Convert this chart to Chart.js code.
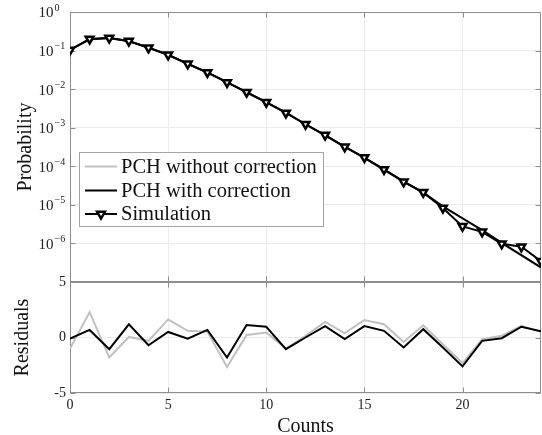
<!DOCTYPE html>
<html>
<head>
<meta charset="utf-8">
<script src="https://cdn.jsdelivr.net/npm/chart.js@4.4.1/dist/chart.umd.min.js"></script>
<style>
  html, body { margin: 0; padding: 0; background: #fff; }
</style>
</head>
<body>
<canvas id="pch" width="542" height="435"></canvas>
<script>
// ---- data ----
const counts = [0, 1, 2, 3, 4, 5, 6, 7, 8, 9, 10, 11, 12, 13, 14, 15, 16, 17, 18, 19, 20, 21, 22, 23, 24];

const simulation = [0.103, 0.200, 0.211, 0.177, 0.118, 0.0778, 0.0454, 0.0272, 0.0149, 0.00836,
  0.00459, 0.00242, 0.00123, 6.45e-4, 3.2e-4, 1.69e-4, 8.3e-5, 3.97e-5, 2.11e-5, 8.3e-6,
  2.77e-6, 2.0e-6, 9.8e-7, 8.2e-7, 3.47e-7];

const pchWithCorr = [0.104, 0.197, 0.212, 0.174, 0.119, 0.0772, 0.0456, 0.0269, 0.0153, 0.00822,
  0.00453, 0.00245, 0.00123, 6.3e-4, 3.22e-4, 1.65e-4, 8.2e-5, 4.05e-5, 2.07e-5, 9.1e-6,
  4.5e-6, 2.2e-6, 1.03e-6, 5.0e-7, 2.4e-7];

const pchNoCorr = [0.108, 0.190, 0.215, 0.176, 0.120, 0.0758, 0.0448, 0.0270, 0.0155, 0.0083,
  0.00455, 0.00245, 0.00122, 6.2e-4, 3.18e-4, 1.62e-4, 8.0e-5, 4.0e-5, 2.04e-5, 9.0e-6,
  4.4e-6, 2.15e-6, 1.0e-6, 4.8e-7, 2.3e-7];

const residNoCorr = [-1.0, 2.28, -1.8, 0.05, -0.3, 1.63, 0.6, 0.53, -2.65, 0.23,
  0.45, -1.0, 0.15, 1.4, 0.4, 1.58, 1.2, -0.4, 1.1, -0.6,
  -2.3, -0.15, 0.15, 1.05, 0.5];

const residCorr = [-0.1, 0.68, -1.05, 1.18, -0.7, 0.5, -0.1, 0.68, -1.8, 1.12,
  0.97, -1.05, 0.0, 1.03, -0.15, 1.03, 0.6, -0.9, 0.75, -0.9,
  -2.6, -0.3, -0.06, 0.97, 0.55];

const xTicks = [0, 5, 10, 15, 20];
const xTickLabels = ['0', '5', '10', '15', '20'];
const probGrid = [1e-7, 1e-6, 1e-5, 1e-4, 1e-3, 1e-2, 1e-1, 1];
const probTicks = [1e-6, 1e-5, 1e-4, 1e-3, 1e-2, 1e-1, 1];
const probTickExp = ['\u22126', '\u22125', '\u22124', '\u22123', '\u22122', '\u22121', '0'];
const residTicks = [-5, 0, 5];
const legendLabels = ['PCH without correction', 'PCH with correction', 'Simulation'];

const SERIF = '"Liberation Serif", "Times New Roman", "DejaVu Serif", serif';
const AXIS_GRAY = '#8e8e8e';
const GRID_GRAY = '#ececec';
const LIGHT_LINE = '#c0c0c0';

const pts = arr => counts.map((c, i) => ({ x: c, y: arr[i] }));

// frame, inward ticks, log labels and the legend box
const decorations = {
    id: 'decorations',
    beforeDatasetsDraw(chart) {
        const { ctx, scales } = chart;
        const x = scales.x;
        ctx.save();
        ctx.strokeStyle = AXIS_GRAY;
        ctx.lineWidth = 1;
        [scales.y, scales.y2].forEach(s => {
            const top = Math.round(s.top) + 0.5;
            const bot = Math.round(s.bottom) - 0.5;
            const l = Math.round(x.left) + 0.5;
            const r = Math.round(x.right) - 0.5;
            ctx.strokeRect(l, top, r - l, bot - top);
            ctx.beginPath();
            xTicks.forEach(v => {
                const px = Math.round(x.getPixelForValue(v)) + 0.5;
                ctx.moveTo(px, top); ctx.lineTo(px, top + 5);
                ctx.moveTo(px, bot); ctx.lineTo(px, bot - 5);
            });
            s.ticks.forEach(t => {
                const py = Math.round(s.getPixelForValue(t.value)) + 0.5;
                ctx.moveTo(l, py); ctx.lineTo(l + 5, py);
                ctx.moveTo(r, py); ctx.lineTo(r - 5, py);
            });
            ctx.stroke();
        });
        ctx.restore();
    },
    afterDraw(chart) {
        const { ctx, scales } = chart;
        const s = scales.y;
        ctx.save();
        ctx.fillStyle = '#222';
        probTicks.forEach((v, i) => {
            const py = s.getPixelForValue(v);
            ctx.font = '15px ' + SERIF;
            ctx.textAlign = 'right';
            ctx.textBaseline = 'middle';
            ctx.fillText('10', 53.5, py + 1.5);
            ctx.font = '10px ' + SERIF;
            ctx.textAlign = 'left';
            ctx.fillText(probTickExp[i], 54.5, py - 4);
        });

        // legend
        const bx = 79.5, by = 152.5, bw = 244, bh = 74;
        ctx.fillStyle = '#fff';
        ctx.fillRect(bx, by, bw, bh);
        ctx.strokeStyle = '#a4a4a4';
        ctx.lineWidth = 1;
        ctx.strokeRect(bx, by, bw, bh);
        const rows = [166.5, 190.5, 214];
        const colors = [LIGHT_LINE, '#000', '#000'];
        legendLabels.forEach((label, i) => {
            ctx.strokeStyle = colors[i];
            ctx.lineWidth = 2;
            ctx.beginPath();
            ctx.moveTo(85, rows[i]);
            ctx.lineTo(117, rows[i]);
            ctx.stroke();
            if (i === 2) {
                ctx.fillStyle = '#fff';
                ctx.lineWidth = 2.5;
                Chart.helpers.drawPoint(ctx, {
                    pointStyle: 'triangle', rotation: 180, radius: 4.5, borderWidth: 2.5
                }, 101, rows[i]);
            }
            ctx.fillStyle = '#111';
            ctx.font = '20.5px ' + SERIF;
            ctx.textAlign = 'left';
            ctx.textBaseline = 'middle';
            ctx.fillText(label, 121, rows[i] + 1);
        });
        ctx.restore();
    }
};

const ctx = document.getElementById('pch').getContext('2d');
const chart = new Chart(ctx, {
    type: 'line',
    data: {
        datasets: [
            {
                label: legendLabels[2], data: pts(simulation), yAxisID: 'y', order: 0,
                borderColor: '#000', borderWidth: 2,
                pointStyle: 'triangle', rotation: 180, pointRadius: 4.5,
                pointBorderWidth: 2.5, pointBorderColor: '#000', pointBackgroundColor: '#fff'
            },
            {
                label: legendLabels[1], data: pts(pchWithCorr), yAxisID: 'y', order: 1,
                borderColor: '#000', borderWidth: 2, pointRadius: 0
            },
            {
                label: legendLabels[0], data: pts(pchNoCorr), yAxisID: 'y', order: 2,
                borderColor: LIGHT_LINE, borderWidth: 2, pointRadius: 0
            },
            {
                label: 'Residuals with correction', data: pts(residCorr), yAxisID: 'y2', order: 1,
                borderColor: '#000', borderWidth: 2, pointRadius: 0
            },
            {
                label: 'Residuals without correction', data: pts(residNoCorr), yAxisID: 'y2', order: 2,
                borderColor: LIGHT_LINE, borderWidth: 2, pointRadius: 0
            }
        ]
    },
    options: {
        responsive: false,
        animation: false,
        layout: { autoPadding: false, padding: { top: 12, right: 1, left: 0, bottom: 0 } },
        plugins: { legend: { display: false }, tooltip: { enabled: false } },
        scales: {
            x: {
                type: 'linear', min: 0, max: 24,
                afterBuildTicks: s => { s.ticks = xTicks.map(v => ({ value: v })); },
                afterFit: s => { s.height = 42; s.paddingLeft = 0; s.paddingRight = 0; },
                grid: { color: GRID_GRAY, drawTicks: false },
                border: { display: false },
                ticks: {
                    padding: 4, color: '#222', font: { family: SERIF, size: 14 },
                    maxRotation: 0,
                    callback: (v) => xTickLabels[xTicks.indexOf(v)]
                },
                title: {
                    display: true, text: 'Counts', color: '#111',
                    font: { family: SERIF, size: 20, lineHeight: 0.8 },
                    padding: { top: 0, bottom: 0 }
                }
            },
            // residual panel is listed first so the probability panel stacks above it
            y2: {
                type: 'linear', position: 'left', stack: 'panels', stackWeight: 111,
                min: -5, max: 5,
                afterBuildTicks: s => { s.ticks = residTicks.map(v => ({ value: v })); },
                afterFit: s => { s.width = 70; s.paddingTop = 0; s.paddingBottom = 0; },
                grid: { color: GRID_GRAY, drawTicks: false },
                border: { display: false },
                ticks: {
                    padding: 4, color: '#222', font: { family: SERIF, size: 14 },
                    callback: v => String(v)
                },
                title: {
                    display: true, text: 'Residuals', color: '#111',
                    font: { family: SERIF, size: 20 },
                    padding: { top: 11, bottom: 0 }
                }
            },
            y: {
                type: 'logarithmic', position: 'left', stack: 'panels', stackWeight: 270,
                min: 1e-7, max: 1,
                afterBuildTicks: s => { s.ticks = probGrid.map(v => ({ value: v })); },
                afterFit: s => { s.width = 70; s.paddingTop = 0; s.paddingBottom = 0; },
                grid: { color: GRID_GRAY, drawTicks: false },
                border: { display: false },
                ticks: { display: false },
                title: {
                    display: true, text: 'Probability', color: '#111',
                    font: { family: SERIF, size: 20 },
                    padding: { top: 14, bottom: 0 }
                }
            }
        }
    },
    plugins: [decorations]
});
</script>
</body>
</html>
